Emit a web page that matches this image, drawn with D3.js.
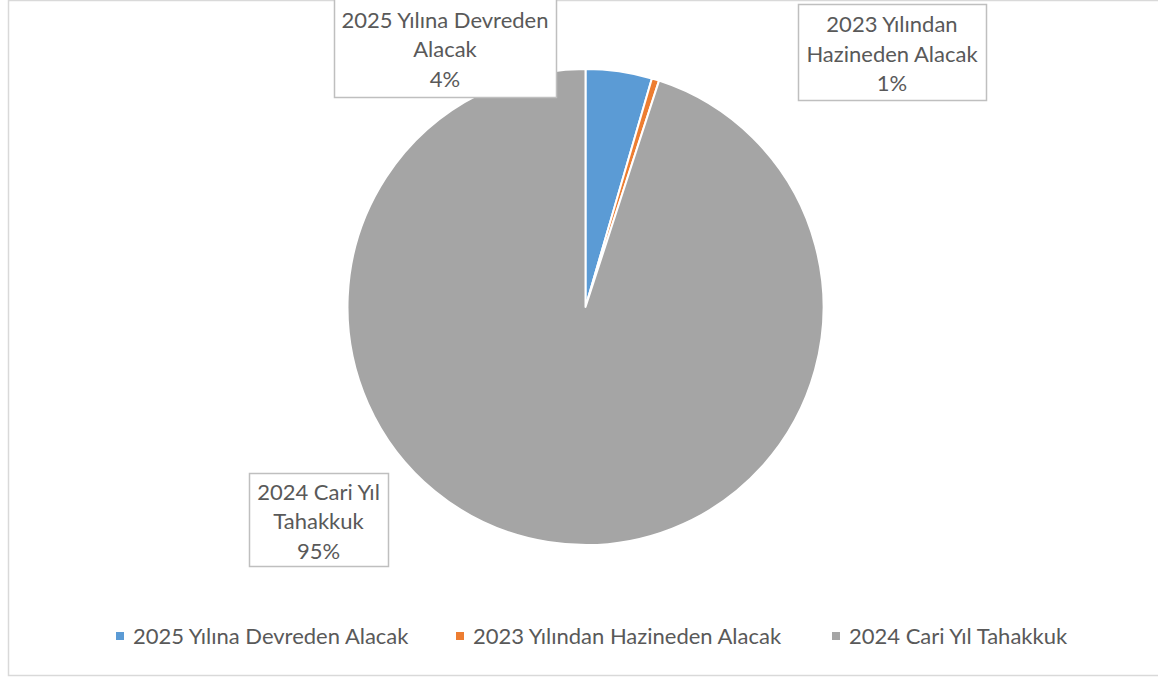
<!DOCTYPE html>
<meta charset="utf-8">
<script src="https://d3js.org/d3.v7.min.js"></script>
<style>
  body { margin: 0; background: #fff; }
  text { font-family: Lato, "Open Sans", sans-serif; fill: #595959; }
</style>
<div id="my_dataviz"></div>
<script>

// data
var categories = ["2025 Yılına Devreden Alacak", "2023 Yılından Hazineden Alacak", "2024 Cari Yıl Tahakkuk"];
var values = [4.5, 0.5, 95.0];
var percentLabels = ["4%", "1%", "95%"];
var labelLines = [["2025 Yılına Devreden", "Alacak"], ["2023 Yılından", "Hazineden Alacak"], ["2024 Cari Yıl", "Tahakkuk"]];
var colors = ["#5b9bd5", "#ed7d31", "#a5a5a5"];

var width = 1158, height = 677;
var cx = 585.5, cy = 307, radius = 238;

var svg = d3.select("#my_dataviz")
  .append("svg")
    .attr("width", width)
    .attr("height", height);

// chart frame
svg.append("rect")
  .attr("x", 8.5).attr("y", 0.5)
  .attr("width", 1160).attr("height", 675)
  .attr("fill", "none")
  .attr("stroke", "#d9d9d9")
  .attr("stroke-width", 1.5);

var pie = d3.pie().sort(null).value(function(d) { return d; });
var arc = d3.arc().innerRadius(0).outerRadius(radius);
var arcs = pie(values);

var g = svg.append("g").attr("transform", "translate(" + cx + "," + cy + ")");
g.selectAll("path")
  .data(arcs)
  .enter()
  .append("path")
    .attr("d", arc)
    .attr("fill", function(d, i) { return colors[i]; })
    .attr("stroke", "#fff")
    .attr("stroke-width", 2)
    .attr("stroke-linejoin", "round");

// data label boxes (box rect: x, y, w, h)
var boxes = [
  {x: 334, y: -2, w: 222, h: 99},
  {x: 798, y: 4, w: 188, h: 96},
  {x: 249, y: 473, w: 139, h: 93}
];
var lineH = 29.5, fontSize = 22;

var lbl = svg.selectAll(".lbl")
  .data(boxes)
  .enter()
  .append("g")
    .attr("class", "lbl");

lbl.append("rect")
  .attr("x", function(d) { return d.x + 0.5; })
  .attr("y", function(d) { return d.y + 0.5; })
  .attr("width", function(d) { return d.w; })
  .attr("height", function(d) { return d.h; })
  .attr("fill", "#fff")
  .attr("stroke", "#bfbfbf")
  .attr("stroke-width", 1.5);

lbl.each(function(d, i) {
  var lines = labelLines[i].concat([percentLabels[i]]);
  var top = d.y + d.h / 2 - lineH * (lines.length - 1) / 2 + 2;
  d3.select(this).selectAll("text")
    .data(lines)
    .enter()
    .append("text")
      .attr("x", d.x + d.w / 2)
      .attr("y", function(t, j) { return top + j * lineH; })
      .attr("dy", "0.35em")
      .attr("text-anchor", "middle")
      .style("font-size", fontSize + "px")
      .text(function(t) { return t; });
});

// legend
var legendX = [116, 456, 832];
var leg = svg.selectAll(".leg")
  .data(categories)
  .enter()
  .append("g")
    .attr("class", "leg")
    .attr("transform", function(d, i) { return "translate(" + legendX[i] + ",636)"; });

leg.append("rect")
  .attr("x", 0).attr("y", -4)
  .attr("width", 8).attr("height", 8)
  .attr("fill", function(d, i) { return colors[i]; });

leg.append("text")
  .attr("x", 17)
  .attr("dy", "0.35em")
  .style("font-size", fontSize + "px")
  .text(function(d) { return d; });

</script>
